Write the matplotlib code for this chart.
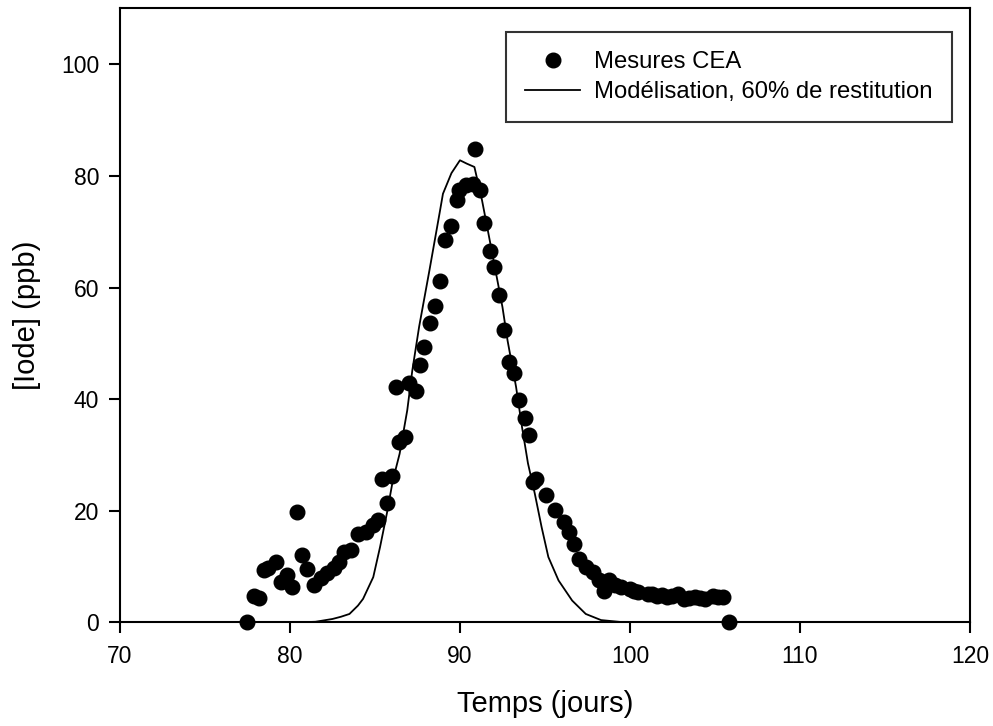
import matplotlib
matplotlib.use('Agg')
import matplotlib.pyplot as plt

plt.rcParams['font.family'] = ['Liberation Sans', 'DejaVu Sans']

# measured iodine concentration (CEA)
mes_t = [77.5, 77.9, 78.2, 78.5, 78.7, 79.2, 79.5, 79.8, 80.1, 80.4,
         80.7, 81.0, 81.4, 81.8, 82.2, 82.6, 82.9, 83.2, 83.6, 84.0,
         84.5, 84.9, 85.2, 85.4, 85.7, 86.0, 86.25, 86.4, 86.75, 87.0,
         87.4, 87.65, 87.9, 88.25, 88.55, 88.8, 89.1, 89.5, 89.8, 89.95,
         90.35, 90.75, 90.9, 91.2, 91.4, 91.75, 92.0, 92.3, 92.6, 92.9,
         93.2, 93.5, 93.8, 94.05, 94.3, 94.5, 95.05, 95.6, 96.1, 96.4,
         96.7, 97.0, 97.4, 97.8, 98.15, 98.45, 98.75, 99.1, 99.5, 100.0,
         100.25, 100.5, 101.05, 101.3, 101.6, 101.9, 102.2, 102.5, 102.8, 103.2,
         103.5, 103.8, 104.1, 104.4, 104.9, 105.2, 105.45, 105.8]
mes_c = [0.0, 4.8, 4.3, 9.4, 9.8, 10.8, 7.2, 8.4, 6.3, 19.7,
         12.0, 9.6, 6.6, 7.9, 8.8, 9.8, 10.8, 12.6, 12.9, 15.9,
         16.1, 17.4, 18.4, 25.6, 21.3, 26.3, 42.1, 32.3, 33.2, 42.8,
         41.5, 46.2, 49.3, 53.7, 56.6, 61.2, 68.6, 71.0, 75.6, 77.4,
         78.3, 78.6, 84.9, 77.5, 71.6, 66.5, 63.7, 58.6, 52.3, 46.6,
         44.6, 39.8, 36.7, 33.5, 25.2, 25.6, 22.9, 20.1, 18.0, 16.2,
         14.1, 11.4, 9.9, 9.0, 7.5, 5.7, 7.5, 6.6, 6.3, 6.0,
         5.7, 5.4, 5.1, 5.0, 4.8, 4.9, 4.5, 4.7, 5.1, 4.2,
         4.4, 4.5, 4.3, 4.2, 4.8, 4.6, 4.5, 0.0]

# model, 60% restitution
mod_t = [80.5, 81.5, 82.5, 83.0, 83.5, 84.0, 84.3, 84.9, 85.3, 85.7,
         86.05, 86.45, 86.9, 87.2, 87.6, 88.2, 88.8, 89.0, 89.5, 90.0,
         90.4, 90.85, 91.3, 91.9, 92.5, 92.8, 93.3, 93.65, 94.0, 94.4,
         94.8, 95.2, 95.8, 96.6, 97.4, 98.3, 99.5, 100.5]
mod_c = [0.0, 0.1, 0.6, 1.0, 1.5, 3.0, 4.2, 8.1, 13.5, 19.5,
         25.4, 30.2, 38.0, 45.2, 53.0, 63.0, 73.3, 76.8, 80.5, 82.8,
         82.2, 81.6, 75.6, 66.1, 56.5, 50.5, 42.2, 35.0, 28.5, 23.1,
         17.1, 11.7, 7.5, 3.9, 1.5, 0.4, 0.05, 0.0]

fig = plt.figure(figsize=(9.93, 7.26), dpi=100)
ax = fig.add_axes([0.1208, 0.1428, 0.856, 0.8455])

ax.plot(mes_t, mes_c, 'o', color='black', markersize=10.5, label='Mesures CEA',
        clip_on=False, zorder=3)
ax.plot(mod_t, mod_c, '-', color='black', linewidth=1.3,
        label='Modélisation, 60% de restitution')

ax.set_xlim(70, 120)
ax.set_ylim(0, 110)
ax.set_xticks([70, 80, 90, 100, 110, 120])
ax.set_yticks([0, 20, 40, 60, 80, 100])
ax.tick_params(direction='out', length=8, width=1.5, labelsize=16.5)
ax.tick_params(axis='x', pad=8)
ax.tick_params(axis='y', pad=7)
for s in ax.spines.values():
    s.set_linewidth(1.5)

ax.set_xlabel('Temps (jours)', fontsize=21, labelpad=16)
ax.set_ylabel('[Iode] (ppb)', fontsize=21, labelpad=14)

leg = ax.legend(loc='upper right', bbox_to_anchor=(0.9587, 0.9559),
                bbox_transform=fig.transFigure, fontsize=17.2, frameon=True,
                fancybox=False, handlelength=2.3, handletextpad=0.6,
                borderpad=0.8, labelspacing=0.34, borderaxespad=0)
leg.get_frame().set_edgecolor('black')
leg.get_frame().set_linewidth(1.5)

fig.savefig('out.png', dpi=100)
